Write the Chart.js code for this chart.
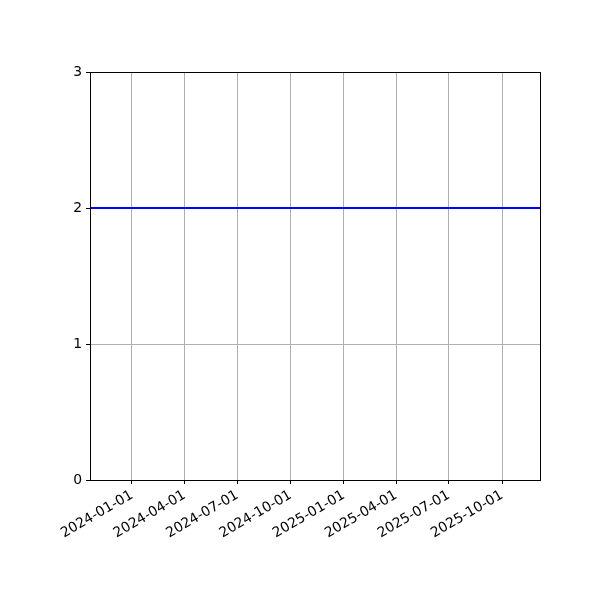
<!DOCTYPE html>
<html>
<head>
<meta charset="utf-8">
<script src="https://cdn.jsdelivr.net/npm/chart.js@4/dist/chart.umd.min.js"></script>
<style>
html,body{margin:0;padding:0;background:#fff;}
#wrap{width:600px;height:600px;position:relative;}
</style>
</head>
<body>
<div id="wrap"><canvas id="c" width="600" height="600"></canvas></div>
<script>
const dates = ['2023-10-20T12:00:00Z', '2025-12-05T14:00:00Z'];
const values = [2, 2];
const xTickLabels = ['2024-01-01','2024-04-01','2024-07-01','2024-10-01','2025-01-01','2025-04-01','2025-07-01','2025-10-01'];
const yTicks = [0, 1, 2, 3];

const ts = d => Date.parse(d);
const points = dates.map((d, i) => ({x: ts(d), y: values[i]}));
const xTickVals = xTickLabels.map(l => ts(l + 'T00:00:00Z'));
const fmt = v => { const d = new Date(v); return d.toISOString().slice(0,10); };

const framePlugin = {
  id: 'frame',
  afterDraw(chart) {
    const {ctx, chartArea: a} = chart;
    ctx.save();
    ctx.strokeStyle = '#000';
    ctx.lineWidth = 1;
    ctx.strokeRect(Math.round(a.left)+0.5, Math.round(a.top)+0.5, Math.round(a.right-a.left), Math.round(a.bottom-a.top));
    ctx.restore();
  }
};

const font = {family: 'DejaVu Sans', size: 13.9};

new Chart(document.getElementById('c'), {
  type: 'line',
  data: {
    datasets: [{
      data: points,
      borderColor: '#0000ff',
      borderWidth: 2,
      pointRadius: 0,
      fill: false,
      tension: 0
    }]
  },
  options: {
    responsive: false,
    animation: false,
    devicePixelRatio: 1,
    layout: {padding: {left: 0, top: 72, right: 60, bottom: 0}},
    plugins: {legend: {display: false}, tooltip: {enabled: false}},
    scales: {
      x: {
        type: 'linear',
        min: ts(dates[0]),
        max: ts(dates[dates.length-1]),
        afterBuildTicks: s => { s.ticks = xTickVals.map(v => ({value: v})); },
        afterFit: s => { s.height = 120; },
        ticks: {
          callback: v => fmt(v),
          color: '#000',
          font: font,
          minRotation: 30,
          maxRotation: 30,
          autoSkip: false,
          padding: 3
        },
        grid: {color: '#b0b0b0', lineWidth: 1, tickColor: '#000', tickLength: 4, tickWidth: 1},
        border: {color: '#000', width: 1}
      },
      y: {
        type: 'linear',
        min: 0,
        max: 3,
        afterBuildTicks: s => { s.ticks = yTicks.map(v => ({value: v})); },
        afterFit: s => { s.width = 90; },
        ticks: {color: '#000', font: font, padding: 4},
        grid: {color: '#b0b0b0', lineWidth: 1, tickColor: '#000', tickLength: 4, tickWidth: 1},
        border: {color: '#000', width: 1}
      }
    }
  },
  plugins: [framePlugin]
});
</script>
</body>
</html>
